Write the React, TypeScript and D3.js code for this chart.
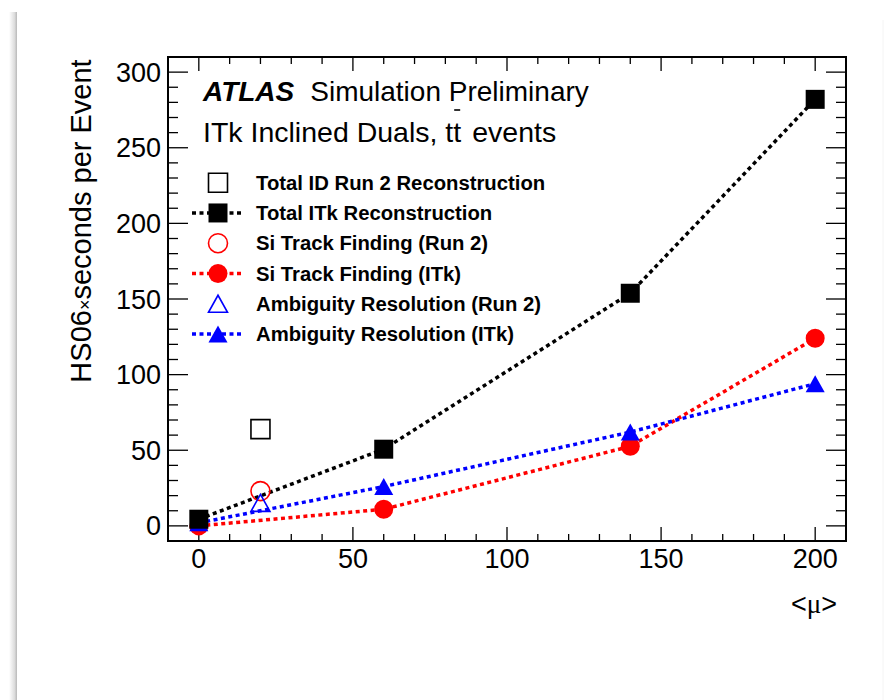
import React, { useEffect, useRef } from 'react';
import * as d3 from 'd3';

// values
const muItk = [0, 60, 140, 200];
const totalItk = [4.4, 50.7, 153.8, 282];
const siItk = [0, 11, 52.6, 124];
const ambItk = [2, 26, 62, 94];

const muRun2 = [20];
const totalRun2 = [64];
const siRun2 = [23];
const ambRun2 = [15.2];

const xTicks = [0, 50, 100, 150, 200];
const yTicks = [0, 50, 100, 150, 200, 250, 300];

const legendLabels = [
  'Total ID Run 2 Reconstruction',
  'Total ITk Reconstruction',
  'Si Track Finding (Run 2)',
  'Si Track Finding (ITk)',
  'Ambiguity Resolution (Run 2)',
  'Ambiguity Resolution (ITk)',
];

const W = 893;
const H = 700;
const FONT = '"Liberation Sans", Arial, Helvetica, sans-serif';

type Shape = 'square' | 'circle' | 'triangle';

const markerPath = (shape: Shape, cx: number, cy: number) => {
  if (shape === 'square') {
    const s = 9.5;
    return `M${cx - s},${cy - s}H${cx + s}V${cy + s}H${cx - s}Z`;
  }
  if (shape === 'circle') {
    const r = 9.5;
    return `M${cx - r},${cy}A${r},${r} 0 1,0 ${cx + r},${cy}A${r},${r} 0 1,0 ${cx - r},${cy}Z`;
  }
  const hw = 9.5;
  const hh = 8.5;
  return `M${cx},${cy - hh}L${cx + hw},${cy + hh}L${cx - hw},${cy + hh}Z`;
};

export default function App() {
  const svgRef = useRef<SVGSVGElement>(null);

  useEffect(() => {
    if (!svgRef.current) return;
    const svg = d3.select(svgRef.current);
    svg.selectAll('*').remove();

    const frame = { left: 168, right: 846, top: 57, bottom: 541 };

    const x = d3.scaleLinear().domain([-10, 210]).range([frame.left, frame.right]);
    const y = d3.scaleLinear().domain([-10, 310]).range([frame.bottom, frame.top]);

    // page shadow on the left edge (slide screenshot look)
    const defs = svg.append('defs');
    const grad = defs.append('linearGradient').attr('id', 'shadow').attr('x1', 0).attr('x2', 1);
    grad.append('stop').attr('offset', '0%').attr('stop-color', '#ffffff');
    grad.append('stop').attr('offset', '70%').attr('stop-color', '#dcdcdc');
    grad.append('stop').attr('offset', '100%').attr('stop-color', '#b8b8b8');
    svg.append('rect').attr('x', 0).attr('y', 0).attr('width', W).attr('height', H).attr('fill', '#fff');
    svg.append('rect').attr('x', 9).attr('y', 12).attr('width', 8).attr('height', H - 12).attr('fill', 'url(#shadow)');
    svg.append('line').attr('x1', 883).attr('x2', 883).attr('y1', 20).attr('y2', H)
      .attr('stroke', '#f4f4f4').attr('stroke-width', 1);

    const g = svg.append('g');

    // ticks (ROOT style: inside on all four sides)
    const xMinor = d3.range(-10, 211, 10);
    const yMinor = d3.range(-10, 311, 10);
    xMinor.forEach(v => {
      const len = v % 50 === 0 ? 14 : 7;
      g.append('line').attr('x1', x(v)).attr('x2', x(v)).attr('y1', frame.bottom).attr('y2', frame.bottom - len)
        .attr('stroke', '#000').attr('stroke-width', 1.3);
      g.append('line').attr('x1', x(v)).attr('x2', x(v)).attr('y1', frame.top).attr('y2', frame.top + len)
        .attr('stroke', '#000').attr('stroke-width', 1.3);
    });
    yMinor.forEach(v => {
      const len = v % 50 === 0 ? 20 : 10;
      g.append('line').attr('x1', frame.left).attr('x2', frame.left + len).attr('y1', y(v)).attr('y2', y(v))
        .attr('stroke', '#000').attr('stroke-width', 1.3);
      g.append('line').attr('x1', frame.right).attr('x2', frame.right - len).attr('y1', y(v)).attr('y2', y(v))
        .attr('stroke', '#000').attr('stroke-width', 1.3);
    });

    g.append('rect')
      .attr('x', frame.left).attr('y', frame.top)
      .attr('width', frame.right - frame.left).attr('height', frame.bottom - frame.top)
      .attr('fill', 'none').attr('stroke', '#000').attr('stroke-width', 2);

    // tick labels
    g.selectAll('text.xt').data(xTicks).enter().append('text')
      .attr('class', 'xt')
      .attr('x', d => x(d)).attr('y', 568)
      .attr('text-anchor', 'middle')
      .attr('font-family', FONT).attr('font-size', 27)
      .text(d => d);

    g.selectAll('text.yt').data(yTicks).enter().append('text')
      .attr('class', 'yt')
      .attr('x', 161).attr('y', d => y(d) + 9.5)
      .attr('text-anchor', 'end')
      .attr('font-family', FONT).attr('font-size', 27)
      .text(d => d);

    // axis titles
    const yt = g.append('text')
      .attr('transform', `translate(91,221) rotate(-90)`)
      .attr('text-anchor', 'middle')
      .attr('font-family', FONT).attr('font-size', 29);
    yt.append('tspan').text('HS06');
    yt.append('tspan').attr('font-size', 18).text('×');
    yt.append('tspan').text('seconds per Event');

    const xt = g.append('text')
      .attr('x', 837).attr('y', 613)
      .attr('text-anchor', 'end')
      .attr('font-family', FONT).attr('font-size', 27);
    xt.append('tspan').text('<');
    xt.append('tspan').attr('font-family', '"Liberation Serif", serif').text('μ');
    xt.append('tspan').text('>');

    // header text
    const h1 = g.append('text').attr('x', 203).attr('y', 101)
      .attr('font-family', FONT).attr('font-size', 28);
    h1.append('tspan').attr('font-weight', 'bold').attr('font-style', 'italic').text('ATLAS');
    h1.append('tspan').attr('dx', 16).text('Simulation Preliminary');

    const h2a = g.append('text').attr('x', 203).attr('y', 142)
      .attr('font-family', FONT).attr('font-size', 28.5)
      .text('ITk Inclined Duals, tt');
    const w2 = (h2a.node() as SVGTextElement).getComputedTextLength();
    g.append('text').attr('x', 203 + w2 + 11).attr('y', 142)
      .attr('font-family', FONT).attr('font-size', 28.5)
      .text('events');
    // bar over the second t
    g.append('line')
      .attr('x1', 203 + w2 - 7).attr('x2', 203 + w2 - 1)
      .attr('y1', 110).attr('y2', 110)
      .attr('stroke', '#000').attr('stroke-width', 1.6);

    const dash = '4 3.5';

    const drawSeries = (
      xs: number[], ys: number[], color: string, shape: Shape, filled: boolean, withLine: boolean,
    ) => {
      if (withLine) {
        const line = d3.line<number>().x((_, i) => x(xs[i])).y(d => y(d));
        g.append('path').attr('d', line(ys) || '')
          .attr('fill', 'none').attr('stroke', color)
          .attr('stroke-width', 3.5).attr('stroke-dasharray', dash);
      }
      ys.forEach((v, i) => {
        g.append('path').attr('d', markerPath(shape, x(xs[i]), y(v)))
          .attr('fill', filled ? color : 'none')
          .attr('stroke', color)
          .attr('stroke-width', filled ? 0 : 1.6);
      });
    };

    drawSeries(muItk, siItk, '#ff0000', 'circle', true, true);
    drawSeries(muItk, ambItk, '#0000ff', 'triangle', true, true);
    drawSeries(muItk, totalItk, '#000000', 'square', true, true);
    drawSeries(muRun2, totalRun2, '#000000', 'square', false, false);
    drawSeries(muRun2, siRun2, '#ff0000', 'circle', false, false);
    drawSeries(muRun2, ambRun2, '#0000ff', 'triangle', false, false);

    // legend
    const legendStyle: { color: string; shape: Shape; filled: boolean }[] = [
      { color: '#000000', shape: 'square', filled: false },
      { color: '#000000', shape: 'square', filled: true },
      { color: '#ff0000', shape: 'circle', filled: false },
      { color: '#ff0000', shape: 'circle', filled: true },
      { color: '#0000ff', shape: 'triangle', filled: false },
      { color: '#0000ff', shape: 'triangle', filled: true },
    ];
    const rowY = d3.scaleLinear().domain([0, 5]).range([182.7, 334]);
    legendLabels.forEach((label, i) => {
      const st = legendStyle[i];
      const cy = rowY(i);
      if (st.filled) {
        g.append('line').attr('x1', 192).attr('x2', 244).attr('y1', cy).attr('y2', cy)
          .attr('stroke', st.color).attr('stroke-width', 3.5).attr('stroke-dasharray', dash);
      }
      g.append('path').attr('d', markerPath(st.shape, 218, cy))
        .attr('fill', st.filled ? st.color : 'none')
        .attr('stroke', st.color).attr('stroke-width', st.filled ? 0 : 1.6);
      g.append('text').attr('x', 256).attr('y', cy + 7.2)
        .attr('font-family', FONT).attr('font-size', 20.3).attr('font-weight', 'bold')
        .text(label);
    });
  }, []);

  return (
    <div style={{ position: 'absolute', left: 0, top: 0 }}>
      <svg ref={svgRef} width={W} height={H} style={{ display: 'block' }}></svg>
    </div>
  );
}
